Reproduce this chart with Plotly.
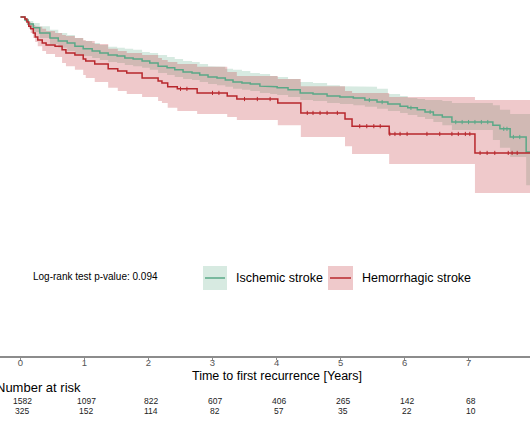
import numpy as np
import plotly.graph_objects as go

# ---------------- data ----------------
# Hemorrhagic stroke: KM step times (years) and survival estimates
hem_time = [0, 0.07, 0.10, 0.13, 0.16, 0.20, 0.23, 0.27, 0.34, 0.40,
            0.54, 0.65, 0.71, 0.85, 0.98, 1.02, 1.16, 1.37, 1.52, 1.66,
            1.90, 2.15, 2.21, 2.30, 2.45, 2.76, 3.23, 3.38, 4.02, 4.38,
            5.07, 5.18, 5.76, 7.10]
hem_surv = [1.000, 0.994, 0.985, 0.973, 0.965, 0.953, 0.941, 0.932, 0.923, 0.917,
            0.914, 0.903, 0.894, 0.888, 0.876, 0.870, 0.861, 0.847, 0.841, 0.835,
            0.820, 0.811, 0.805, 0.794, 0.788, 0.776, 0.767, 0.758, 0.746, 0.717,
            0.699, 0.678, 0.655, 0.599]
hem_upper = [1.000, 0.997, 0.991, 0.985, 0.982, 0.976, 0.973, 0.971, 0.965, 0.959,
             0.953, 0.947, 0.944, 0.938, 0.932, 0.929, 0.920, 0.906, 0.900, 0.894,
             0.888, 0.879, 0.873, 0.867, 0.861, 0.853, 0.838, 0.826, 0.817, 0.796,
             0.782, 0.776, 0.764, 0.755]
hem_lower = [1.000, 0.988, 0.976, 0.965, 0.953, 0.938, 0.926, 0.914, 0.900, 0.891,
             0.882, 0.864, 0.855, 0.844, 0.829, 0.820, 0.808, 0.791, 0.782, 0.773,
             0.764, 0.752, 0.746, 0.732, 0.723, 0.714, 0.705, 0.696, 0.681, 0.646,
             0.619, 0.596, 0.566, 0.481]
hem_censor = [2.50, 2.60, 3.00, 3.10, 3.50, 3.70, 3.90, 4.48, 4.57, 4.68, 4.79, 4.95,
              5.30, 5.41, 5.52, 5.62, 5.77, 5.85, 5.93, 6.04, 6.35, 6.55, 6.74,
              6.84, 6.95, 7.02, 7.18, 7.29, 7.41, 7.62, 7.68, 7.76]

# Ischemic stroke
isc_time = [0, 0.07, 0.12, 0.20, 0.30, 0.46, 0.59, 0.73, 0.85, 0.98,
            1.12, 1.24, 1.37, 1.51, 1.63, 1.76, 1.90, 2.02, 2.15, 2.29,
            2.41, 2.54, 2.68, 2.80, 2.93, 3.07, 3.20, 3.32, 3.46, 3.59,
            3.74, 3.90, 4.01, 4.18, 4.37, 4.57, 4.79, 4.99, 5.20, 5.38,
            5.57, 5.74, 5.93, 6.05, 6.20, 6.32, 6.45, 6.59, 6.74, 7.38,
            7.49, 7.65, 7.90]
isc_surv = [1.000, 0.991, 0.979, 0.968, 0.953, 0.938, 0.929, 0.923, 0.914, 0.906,
            0.900, 0.894, 0.888, 0.885, 0.879, 0.876, 0.870, 0.864, 0.855, 0.850,
            0.844, 0.838, 0.835, 0.829, 0.823, 0.820, 0.814, 0.808, 0.805, 0.802,
            0.796, 0.794, 0.791, 0.785, 0.776, 0.773, 0.767, 0.764, 0.761, 0.755,
            0.749, 0.743, 0.737, 0.732, 0.726, 0.720, 0.711, 0.705, 0.690, 0.681,
            0.670, 0.646, 0.602]
isc_upper = [1.000, 0.997, 0.988, 0.982, 0.973, 0.962, 0.953, 0.947, 0.938, 0.929,
             0.923, 0.917, 0.912, 0.909, 0.906, 0.903, 0.897, 0.894, 0.888, 0.882,
             0.876, 0.870, 0.867, 0.861, 0.855, 0.853, 0.847, 0.844, 0.841, 0.835,
             0.832, 0.826, 0.823, 0.817, 0.808, 0.805, 0.799, 0.796, 0.794, 0.794,
             0.788, 0.773, 0.767, 0.761, 0.758, 0.755, 0.755, 0.752, 0.746, 0.740,
             0.726, 0.714, 0.714]
isc_lower = [1.000, 0.985, 0.971, 0.956, 0.938, 0.920, 0.909, 0.900, 0.891, 0.885,
             0.879, 0.873, 0.867, 0.864, 0.858, 0.855, 0.850, 0.844, 0.835, 0.829,
             0.823, 0.817, 0.814, 0.808, 0.802, 0.799, 0.794, 0.788, 0.785, 0.782,
             0.776, 0.773, 0.770, 0.764, 0.755, 0.752, 0.746, 0.743, 0.740, 0.735,
             0.729, 0.723, 0.717, 0.711, 0.705, 0.699, 0.690, 0.681, 0.667, 0.637,
             0.614, 0.587, 0.504]
isc_censor = [5.45, 5.65, 6.10, 6.40, 6.80, 6.90, 7.00, 7.10, 7.20, 7.30,
              7.55, 7.60, 7.70, 7.80]

tick_years = [0, 1, 2, 3, 4, 5, 6, 7]
risk_isc = [1582, 1097, 822, 607, 406, 265, 142, 68]
risk_hem = [325, 152, 114, 82, 57, 35, 22, 10]
group_names = ["Ischemic stroke", "Hemorrhagic stroke"]
pvalue_text = "Log-rank test p-value: 0.094"
x_title = "Time to first recurrence [Years]"
T_END = 8.0

# ---------------- styles ----------------
GREEN = "#5aa887"
RED = "#b8272d"
GREEN_FILL = "rgba(95,172,135,0.25)"
RED_FILL = "rgba(192,48,56,0.26)"
FONT = "Arial, Liberation Sans, sans-serif"


def step_xy(t, v, t_end):
    t = list(t) + [t_end]
    xs, ys = [], []
    for i in range(len(v)):
        xs += [t[i], t[i + 1]]
        ys += [v[i], v[i]]
    return np.array(xs), np.array(ys)


def band_polygon(t, up, lo, t_end):
    xu, yu = step_xy(t, up, t_end)
    xl, yl = step_xy(t, lo, t_end)
    return np.concatenate([xu, xl[::-1]]), np.concatenate([yu, yl[::-1]])


def value_at(t, v, q):
    idx = np.searchsorted(np.array(t), np.array(q), side="right") - 1
    return np.array(v)[idx]


fig = go.Figure()

# bands
for t, up, lo, fc in [(isc_time, isc_upper, isc_lower, GREEN_FILL),
                      (hem_time, hem_upper, hem_lower, RED_FILL)]:
    px_, py_ = band_polygon(t, up, lo, T_END)
    fig.add_trace(go.Scatter(x=px_, y=py_, fill="toself", fillcolor=fc,
                             line=dict(width=0), mode="lines",
                             hoverinfo="skip", showlegend=False))

# curves
for t, s, c, nm in [(isc_time, isc_surv, GREEN, group_names[0]),
                    (hem_time, hem_surv, RED, group_names[1])]:
    sx, sy = step_xy(t, s, T_END)
    fig.add_trace(go.Scatter(x=sx, y=sy, mode="lines", name=nm,
                             line=dict(color=c, width=1.5), showlegend=False))

# censor marks
for t, s, cen, c in [(isc_time, isc_surv, isc_censor, GREEN),
                     (hem_time, hem_surv, hem_censor, RED)]:
    fig.add_trace(go.Scatter(x=cen, y=value_at(t, s, cen), mode="markers",
                             marker=dict(symbol="line-ns", size=3,
                                         line=dict(color=c, width=1)),
                             hoverinfo="skip", showlegend=False))

# ---------------- layout ----------------
W, H = 530, 442
PLOT_BOTTOM = 356  # pixel row of x axis
fig.update_layout(
    width=W, height=H,
    margin=dict(l=0, r=0, t=0, b=H - PLOT_BOTTOM, pad=0),
    paper_bgcolor="white", plot_bgcolor="white",
    font=dict(family=FONT, color="black"),
    showlegend=False,
    xaxis=dict(range=[-0.32, 7.96], tickvals=tick_years,
               ticktext=[str(v) for v in tick_years],
               showgrid=False, zeroline=False,
               showline=True, linecolor="#8c8c8c", linewidth=1.5,
               ticks="outside", ticklen=2, tickcolor="#8c8c8c", tickwidth=1,
               ticklabelstandoff=-5,
               tickfont=dict(size=9.5, color="#555555", family=FONT)),
    yaxis=dict(range=[0, 1.0501], visible=False, showgrid=False, zeroline=False),
)


def py2paper(py):
    return (PLOT_BOTTOM - py) / PLOT_BOTTOM


# legend (drawn manually as filled keys)
for (x0, x1, fc, lc, name) in [(203, 227, GREEN_FILL, GREEN, group_names[0]),
                               (328, 353, RED_FILL, RED, group_names[1])]:
    fig.add_shape(type="rect", xref="paper", yref="paper",
                  x0=x0 / W, x1=x1 / W, y0=py2paper(290), y1=py2paper(266),
                  fillcolor=fc, line=dict(width=0))
    fig.add_shape(type="line", xref="paper", yref="paper",
                  x0=(x0 + 2) / W, x1=(x1 - 2) / W, y0=py2paper(278), y1=py2paper(278),
                  line=dict(color=lc, width=1.5))
    fig.add_annotation(x=(x1 + 7) / W, y=py2paper(278), xref="paper", yref="paper",
                       text=name, showarrow=False, xanchor="left", yanchor="middle",
                       font=dict(size=12.5, family=FONT, color="black"))

fig.add_annotation(x=31 / W, y=py2paper(276), xref="paper", yref="paper",
                   text=pvalue_text, showarrow=False, xanchor="left", yanchor="middle",
                   font=dict(size=10, family=FONT, color="black"))

fig.add_annotation(x=4, y=py2paper(376), xref="x", yref="paper",
                   text=x_title, showarrow=False, xanchor="center", yanchor="middle",
                   font=dict(size=12.5, family=FONT, color="black"))

fig.add_annotation(x=-6.4 / W, y=py2paper(387), xref="paper", yref="paper",
                   text="Number at risk", showarrow=False, xanchor="left", yanchor="middle",
                   font=dict(size=13, family=FONT, color="black"))

for row_vals, py in [(risk_isc, 401), (risk_hem, 411)]:
    for xv, n in zip(tick_years, row_vals):
        fig.add_annotation(x=xv, y=py2paper(py), xref="x", yref="paper",
                           text=str(n), showarrow=False, xanchor="center",
                           yanchor="middle", xshift=2,
                           font=dict(size=8.5, family=FONT, color="#222222"))

fig.write_html("out.html", config={"displayModeBar": False},
               post_script="document.body.style.margin='0';document.body.style.overflow='hidden';")
